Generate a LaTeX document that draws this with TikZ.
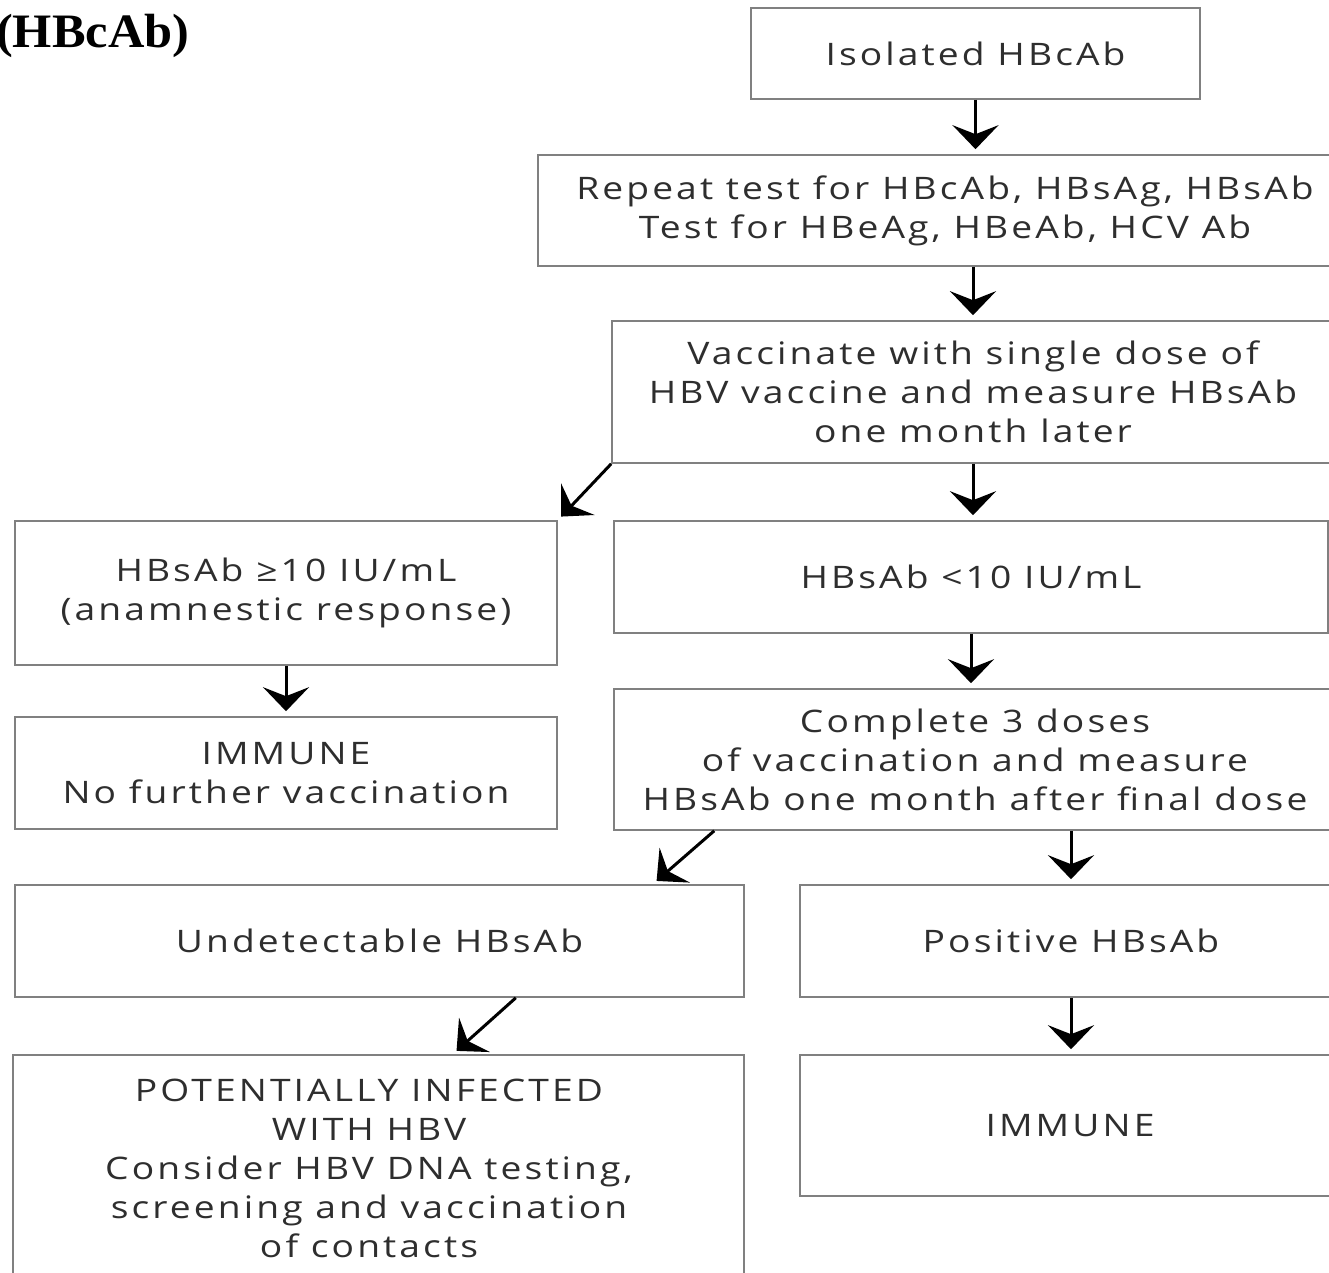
\documentclass[tikz,border=0pt]{standalone}
\usepackage{fontspec}
\usetikzlibrary{arrows.meta,calc}
\newfontfamily\boxfont[LetterSpace=10,FakeStretch=1.2]{Open Sans}
\newfontfamily\titlefont[FakeStretch=1.05]{Liberation Serif}
\definecolor{boxgray}{HTML}{808080}
\definecolor{txtgray}{HTML}{2E2E2E}
\tikzset{
  fbox/.style={draw=boxgray, line width=1.6pt, inner sep=0pt, align=center,
    text=txtgray, font=\boxfont\fontsize{31}{39}\selectfont},
  ftext/.style={inner sep=0pt, align=center,
    text=txtgray, font=\boxfont\fontsize{31}{39}\selectfont},
  flow/.style={line width=3pt, black, shorten >=5pt,
    -{Stealth[length=24pt,width=46pt,inset=9pt]}},
}
\begin{document}
\begin{tikzpicture}[x=1pt,y=-1pt]
\useasboundingbox (0,0) rectangle (1329,1272);
\clip (0,0) rectangle (1329,1272);
\fill[white] (0,0) rectangle (1329,1272);

\node[anchor=base west, inner sep=0pt, font=\titlefont\bfseries\fontsize{48}{50}\selectfont] (title) at (-4,47) {(HBcAb)};

\node[fbox, minimum width=449pt, minimum height=91pt] (b1) at (975.5,53.5) {Isolated HBcAb};
\node[fbox, minimum width=814pt, minimum height=111pt] (b2) at (945,210.5) {Repeat test for HBcAb, HBsAg, HBsAb\\Test for HBeAg, HBeAb, HCV Ab};
\node[fbox, minimum width=722pt, minimum height=142pt] (b3) at (973,392) {Vaccinate with single dose of\\HBV vaccine and measure HBsAb\\one month later};
\node[fbox, minimum width=542pt, minimum height=144pt] (b4) at (286,593) {HBsAb ≥10 IU/mL\\(anamnestic response)};
\node[fbox, minimum width=714pt, minimum height=112pt] (b5) at (971,577) {HBsAb <10 IU/mL};
\node[fbox, minimum width=542pt, minimum height=112pt] (b6) at (286,773) {IMMUNE\\No further vaccination};
\node[fbox, minimum width=722pt, minimum height=141pt] (b7) at (975,759.5) {Complete 3 doses\\of vaccination and measure\\HBsAb one month after final dose};
\node[fbox, minimum width=729pt, minimum height=112pt] (b8) at (379.5,941) {Undetectable HBsAb};
\node[fbox, minimum width=542pt, minimum height=112pt] (b9) at (1071,941) {Positive HBsAb};
\node[fbox, minimum width=731pt, minimum height=226pt] (b10) at (378.5,1168) {};
\node[ftext] (b10t) at (369,1168) {POTENTIALLY INFECTED\\WITH HBV\\Consider HBV DNA testing,\\screening and vaccination\\of contacts};
\node[fbox, minimum width=540pt, minimum height=141pt] (b11) at (1070,1125.5) {IMMUNE};

\draw[flow] (b1.south) -- (b1.south |- b2.north);
\draw[flow] (b2.south -| b3.north) -- (b3.north);
\draw[flow] (b3.south west) -- (b4.north east);
\draw[flow] (b3.south) -- (b3.south |- b5.north);
\draw[flow] (b4.south) -- (b6.north);
\draw[flow] (b5.south) -- (b5.south |- b7.north);
\draw[flow] ([xshift=101pt]b7.south west) -- ([xshift=-92pt]b8.north east);
\draw[flow] (b9.north |- b7.south) -- (b9.north);
\draw[flow] ([xshift=-229pt]b8.south east) -- ([xshift=-292pt]b10.north east);
\draw[flow] (b9.south) -- (b9.south |- b11.north);
\end{tikzpicture}
\end{document}
